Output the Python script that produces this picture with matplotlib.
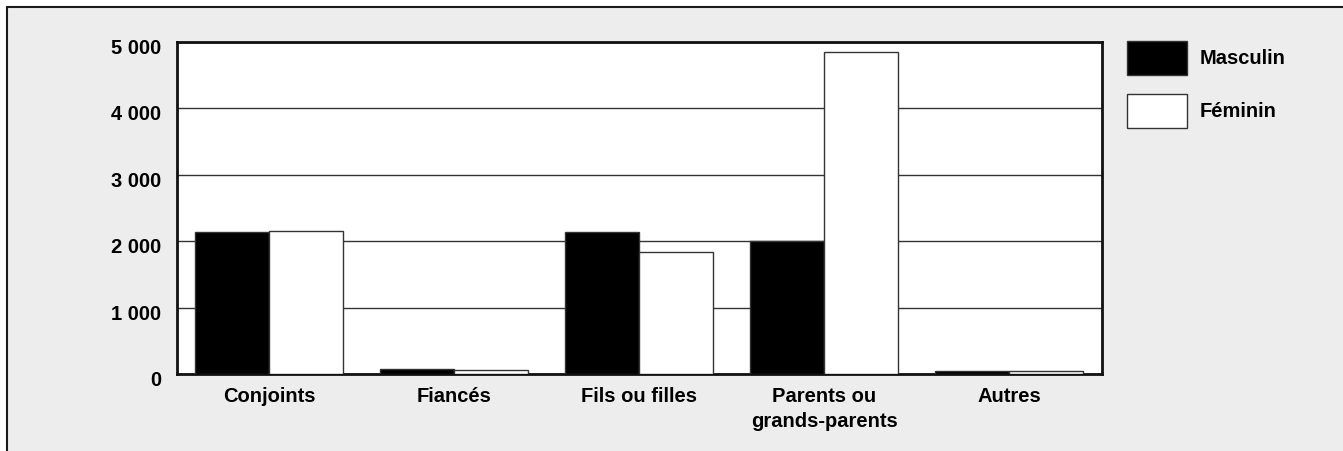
import matplotlib
matplotlib.use("Agg")
import matplotlib.pyplot as plt
import matplotlib.transforms as mtransforms
from matplotlib.patches import Rectangle
import numpy as np

categories = ["Conjoints", "Fiancés", "Fils ou filles", "Parents ou\ngrands-parents", "Autres"]
masculin = [2140, 70, 2145, 2000, 50]
feminin = [2150, 55, 1835, 4845, 40]
yticks = [0, 1000, 2000, 3000, 4000, 5000]
ytick_labels = ["0", "1 000", "2 000", "3 000", "4 000", "5 000"]
series_names = ["Masculin", "Féminin"]

plt.rcParams['font.family'] = ['Liberation Sans', 'DejaVu Sans']
FS = 14.5
fs_px = FS * 100 / 72

W, H = 1343, 451
fig = plt.figure(figsize=(W / 100, H / 100), dpi=100, facecolor="white")

# background panel with top/left border
bg = Rectangle((6.5 / W, -0.1), 2.0, (H - 7.5) / H + 0.1, transform=fig.transFigure,
               facecolor="#ededed", edgecolor="#1a1a1a", linewidth=1.5, zorder=-10)
fig.patches.append(bg)

ax = fig.add_axes([177 / W, 1 - 374 / H, (1101.5 - 177) / W, (374 - 42) / H])
ax.set_facecolor("white")

x = np.arange(len(categories))
w = 0.4
ax.bar(x - w / 2, masculin, width=w, color="black", edgecolor="#333333", linewidth=1.0,
       label=series_names[0], zorder=3)
ax.bar(x + w / 2, feminin, width=w, color="white", edgecolor="#333333", linewidth=1.0,
       label=series_names[1], zorder=3)

ax.set_xlim(-0.5, len(categories) - 0.5)
ax.set_ylim(0, 5000)
ax.set_yticks(yticks)
ax.set_yticklabels(ytick_labels, fontsize=FS, fontweight="bold")
ax.set_xticks(x)
ax.set_xticklabels(categories, fontsize=FS, fontweight="bold", linespacing=1.45)
ax.tick_params(axis="y", length=0, pad=11.5)
ax.tick_params(axis="x", length=0, pad=9)

offset = mtransforms.ScaledTranslation(0, -4.5 / 100, fig.dpi_scale_trans)
for lbl in ax.get_yticklabels():
    lbl.set_transform(lbl.get_transform() + offset)

ax.set_axisbelow(True)
ax.yaxis.grid(True, color="#333333", linewidth=1.0)
ax.xaxis.grid(False)
for s in ax.spines.values():
    s.set_linewidth(2.0)
    s.set_color("#111111")

hh = (34 / fs_px - 0.245) / 0.65
leg = ax.legend(loc="upper left", bbox_to_anchor=(1127 / W, 1 - 41 / H),
                bbox_transform=fig.transFigure, frameon=False, prop={"size": FS, "weight": "bold"},
                handlelength=60 / fs_px, handleheight=hh, labelspacing=19 / fs_px,
                handletextpad=13 / fs_px, borderpad=0, borderaxespad=0)

fig.savefig("out.png", dpi=100, facecolor=fig.get_facecolor())
